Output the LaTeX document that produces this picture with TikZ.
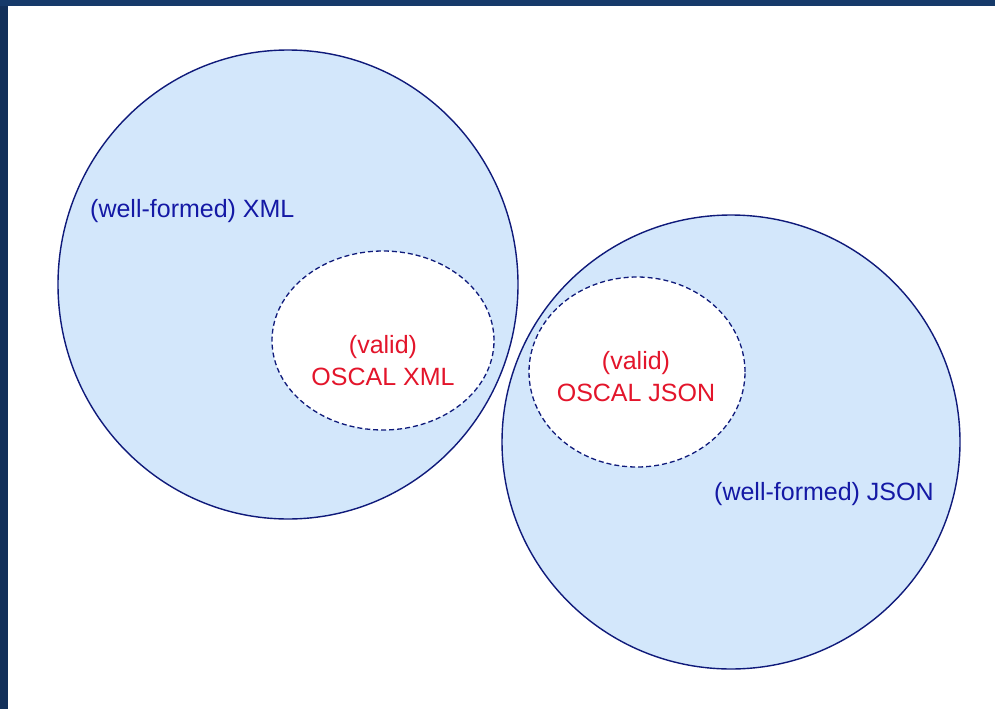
\documentclass[tikz,border=0pt]{standalone}
\usepackage{fontspec}
\setmainfont{Liberation Sans}
\usetikzlibrary{shapes.geometric}
\definecolor{bordernavy}{HTML}{12305A}
\definecolor{bordertop}{HTML}{163A6A}
\definecolor{ringblue}{HTML}{0F1A7A}
\definecolor{setfill}{HTML}{D3E7FB}
\definecolor{labelblue}{HTML}{1419A5}
\definecolor{labelred}{HTML}{E3152B}
\tikzset{
  bigset/.style={ellipse, draw=ringblue, line width=1.4pt, fill=setfill, inner sep=0pt},
  subset/.style={ellipse, draw=ringblue, line width=1.3pt, dash pattern=on 5pt off 3pt, fill=white, inner sep=0pt},
  setlabel/.style={text=labelblue, font=\fontsize{25}{30}\selectfont, inner sep=0pt},
  validlabel/.style={text=labelred, font=\fontsize{25}{32}\selectfont, align=center, inner sep=0pt}
}
\begin{document}
\begin{tikzpicture}[x=1pt, y=-1pt]
\useasboundingbox (0,0) rectangle (995,709);
\fill[white] (0,0) rectangle (995,709);
\fill[bordernavy] (0,0) rectangle (8,709);
\fill[bordertop] (0,0) rectangle (995,6);

\node[bigset, minimum width=460pt, minimum height=469pt] (xml) at (288,284.5) {};
\node[bigset, minimum width=458pt, minimum height=454pt] (json) at (731,442) {};
\node[subset, minimum width=222pt, minimum height=179pt] (oxml) at (383,340.5) {};
\node[subset, minimum width=216pt, minimum height=190pt] (ojson) at (637,372) {};

\node[setlabel, anchor=west] (xmllabel) at (90,211) {(well-formed) XML};
\node[setlabel, anchor=west] (jsonlabel) at (714,494) {(well-formed) JSON};
\node[validlabel] (oxmllabel) at (383,361) {(valid)\\OSCAL XML};
\node[validlabel] (ojsonlabel) at (636,377) {(valid)\\OSCAL JSON};
\end{tikzpicture}
\end{document}
